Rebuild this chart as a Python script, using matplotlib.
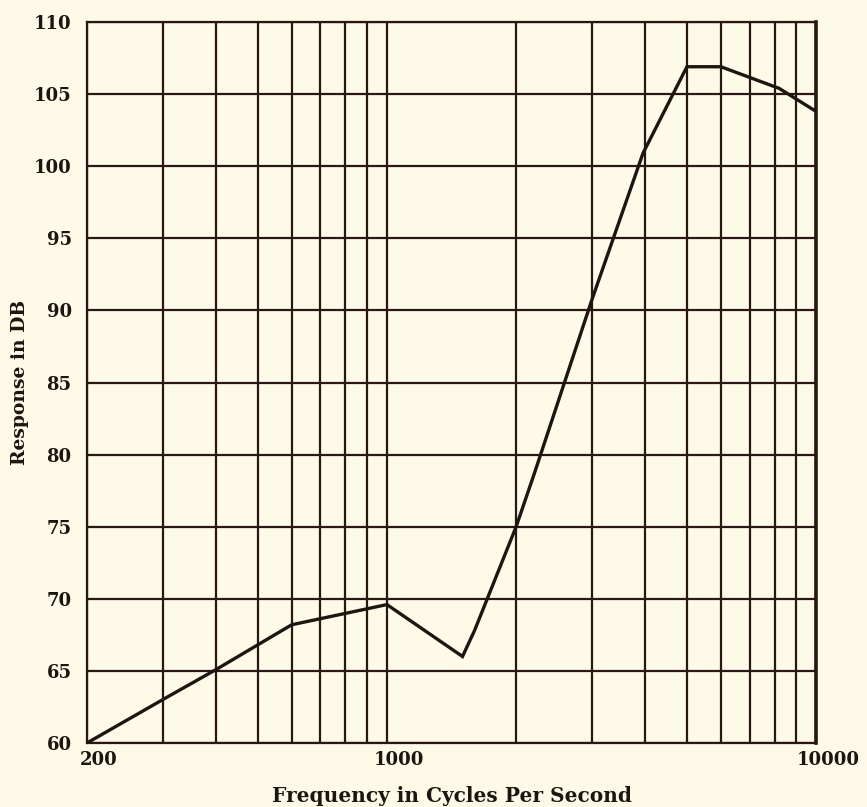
import numpy as np
import matplotlib
matplotlib.use("Agg")
import matplotlib.pyplot as plt
import matplotlib.transforms as mtransforms
from matplotlib.ticker import FixedLocator, NullFormatter

# Frequency response curve (read point by point)
freq = [200, 300, 400, 600, 1000, 1500, 1600, 2000, 2200, 3000, 3950, 5000, 6000, 8200, 10000]
response = [60, 63.0, 65.1, 68.2, 69.6, 66.0, 67.8, 75.0, 78.6, 90.7, 100.9, 106.9, 106.9, 105.4, 103.8]

x_major = [200, 1000, 10000]
x_major_labels = ["200", "1000", "10000"]
x_minor = [300, 400, 500, 600, 700, 800, 900, 2000, 3000, 4000, 5000, 6000, 7000, 8000, 9000]
y_ticks = list(range(60, 111, 5))

paper = "#fdfbe8"
ink = "#1e1410"
grid_ink = "#2a1612"

fig = plt.figure(figsize=(8.67, 8.07), dpi=100, facecolor=paper)
ax = fig.add_axes([0.1003, 0.0793, 0.8410, 0.8934], facecolor=paper)

ax.set_xscale("log")
ax.set_xlim(200, 10000)
ax.set_ylim(60, 110)

ax.xaxis.set_major_locator(FixedLocator(x_major))
ax.xaxis.set_minor_locator(FixedLocator(x_minor))
ax.xaxis.set_minor_formatter(NullFormatter())
ax.set_xticklabels(x_major_labels)
ax.set_yticks(y_ticks)

ax.grid(True, which="both", axis="x", color=grid_ink, linewidth=1.6)
ax.grid(True, which="major", axis="y", color=grid_ink, linewidth=1.6)
ax.tick_params(which="both", length=0)
ax.tick_params(axis="x", pad=6)
ax.tick_params(axis="y", pad=11)

for side in ["left", "bottom", "top"]:
    ax.spines[side].set_color(grid_ink)
    ax.spines[side].set_linewidth(1.6)
ax.spines["right"].set_color(grid_ink)
ax.spines["right"].set_linewidth(2.6)

ax.plot(freq, response, color=ink, linewidth=2.4, solid_joinstyle="miter", zorder=5)

tick_font = dict(family="DejaVu Serif", weight="bold", size=13)
for lab in ax.get_xticklabels():
    lab.set(**tick_font)
    lab.set_transform(lab.get_transform() + mtransforms.ScaledTranslation(12 / 100, 0, fig.dpi_scale_trans))
for lab in ax.get_yticklabels():
    lab.set(**tick_font)

ax.set_xlabel("Frequency in Cycles Per Second", family="DejaVu Serif", weight="bold",
              size=14.5, color=ink, labelpad=12)
ax.set_ylabel("Response in DB", family="DejaVu Serif", weight="bold",
              size=13.5, color=ink)
ax.yaxis.set_label_coords(-0.08, 0.5)
ax.tick_params(colors=ink)

fig.savefig("out.png", dpi=100, facecolor=paper)
